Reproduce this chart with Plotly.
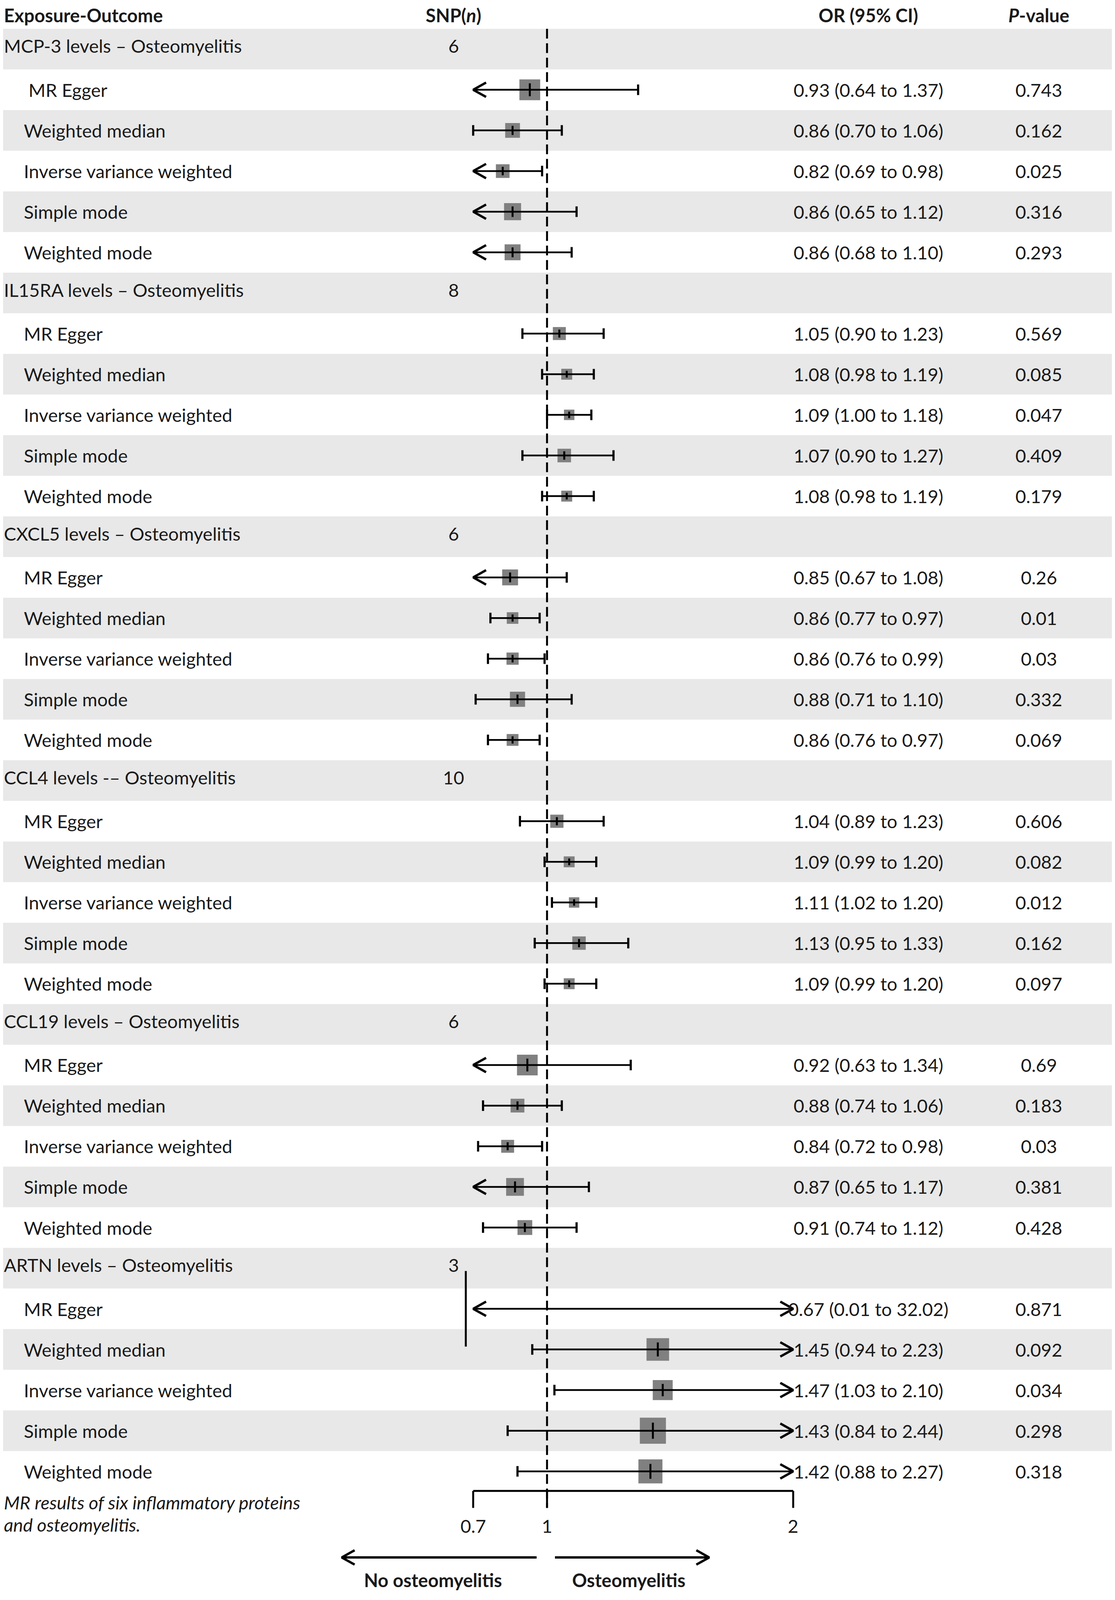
import numpy as np
import plotly.graph_objects as go

# ---- data ----
groups = [
    "MCP-3 levels – Osteomyelitis",
    "IL15RA levels – Osteomyelitis",
    "CXCL5 levels – Osteomyelitis",
    "CCL4 levels -– Osteomyelitis",
    "CCL19 levels – Osteomyelitis",
    "ARTN levels – Osteomyelitis",
]
snp_n = [6, 8, 6, 10, 6, 3]
methods = ["MR Egger", "Weighted median", "Inverse variance weighted", "Simple mode", "Weighted mode"]

or_est = [
    [0.93, 0.86, 0.82, 0.86, 0.86],
    [1.05, 1.08, 1.09, 1.07, 1.08],
    [0.85, 0.86, 0.86, 0.88, 0.86],
    [1.04, 1.09, 1.11, 1.13, 1.09],
    [0.92, 0.88, 0.84, 0.87, 0.91],
    [0.67, 1.45, 1.47, 1.43, 1.42],
]
ci_low = [
    [0.64, 0.70, 0.69, 0.65, 0.68],
    [0.90, 0.98, 1.00, 0.90, 0.98],
    [0.67, 0.77, 0.76, 0.71, 0.76],
    [0.89, 0.99, 1.02, 0.95, 0.99],
    [0.63, 0.74, 0.72, 0.65, 0.74],
    [0.01, 0.94, 1.03, 0.84, 0.88],
]
ci_high = [
    [1.37, 1.06, 0.98, 1.12, 1.10],
    [1.23, 1.19, 1.18, 1.27, 1.19],
    [1.08, 0.97, 0.99, 1.10, 0.97],
    [1.23, 1.20, 1.20, 1.33, 1.20],
    [1.34, 1.06, 0.98, 1.17, 1.12],
    [32.02, 2.23, 2.10, 2.44, 2.27],
]
p_values = [
    ["0.743", "0.162", "0.025", "0.316", "0.293"],
    ["0.569", "0.085", "0.047", "0.409", "0.179"],
    ["0.26", "0.01", "0.03", "0.332", "0.069"],
    ["0.606", "0.082", "0.012", "0.162", "0.097"],
    ["0.69", "0.183", "0.03", "0.381", "0.428"],
    ["0.871", "0.092", "0.034", "0.298", "0.318"],
]
x_ticks = [0.7, 1, 2]
x_tick_labels = ["0.7", "1", "2"]

# ---- geometry / style ----
# the page viewport is a little shorter than 4206, so the layout is squeezed
# vertically to keep the bottom labels inside the photographed area
W, H = 2845, 4085
VS = 4070 / 4206                # vertical squeeze vs. the reference pixels
X_LO, X_HI = 0.7, 2.0          # clipping window of the forest column
PX0, PX_PER = 1203.6, 630.3     # pixel of x=0.7 and pixels per OR unit
ROW_TOP, ROW_H = 68, 107.5      # reference pixel of first row top, row height
FONT = "Lato"
FS = 47
TXT = "#1a1a1a"


def px_to_x(px):
    return X_LO + (px - PX0) / PX_PER


def px_to_row(py):
    return (py - ROW_TOP) / ROW_H


ARROW_DX = 33 / PX_PER
ARROW_DY = 19 / ROW_H
CAP_DY = 14 / ROW_H

fig = go.Figure()
annotations = []
shapes = []


def add_text(px, row, text, anchor="left", bold=False, size=FS, italic=False):
    if bold:
        text = "<b>" + text + "</b>"
    if italic:
        text = "<i>" + text + "</i>"
    annotations.append(dict(
        x=px / W, xref="paper", y=row, yref="y", text=text, showarrow=False,
        xanchor=anchor, yanchor="middle",
        font=dict(family=FONT, size=size, color=TXT),
    ))


# header row
hdr = px_to_row(32)
add_text(0, hdr, "Exposure-Outcome", bold=True)
add_text(1153, hdr, "SNP(<i>n</i>)", anchor="center", bold=True)
add_text(2215, hdr, "OR (95% CI)", anchor="center", bold=True)
add_text(2652, hdr, "<i>P</i>-value", anchor="center", bold=True)

n_rows = len(groups) * (len(methods) + 1)
for r in range(0, n_rows, 2):
    shapes.append(dict(type="rect", xref="paper", yref="y", x0=0, x1=1, y0=r, y1=r + 1,
                       fillcolor="#E8E8E8", line=dict(width=0), layer="below"))

box_x, box_y, box_s = [], [], []
ci_x, ci_y = [], []
cap_x, cap_y = [], []
arr_x, arr_y = [], []
tk_x, tk_y = [], []

for g, name in enumerate(groups):
    r0 = g * (len(methods) + 1)
    add_text(0, r0 + 0.42, name)
    add_text(1153, r0 + 0.42, str(snp_n[g]), anchor="center")
    for k, m in enumerate(methods):
        yc = r0 + 1 + k + 0.5
        label = ("\u00a0" + m) if (g == 0 and k == 0) else m
        add_text(51, yc, label)
        est, lo, hi = or_est[g][k], ci_low[g][k], ci_high[g][k]
        add_text(2215, yc, f"{est:.2f} ({lo:.2f} to {hi:.2f})", anchor="center")
        add_text(2652, yc, p_values[g][k], anchor="center")

        size = 20 + 46 * np.log(hi / lo)
        if X_LO <= est <= X_HI:
            box_x.append(est)
            box_y.append(yc)
            box_s.append(size * VS)
        half = min(0.62 * size, 200) / 2 / ROW_H
        tk_x += [est, est, None]
        tk_y += [yc - half, yc + half, None]

        lo_d, hi_d = max(lo, X_LO), min(hi, X_HI)
        ci_x += [lo_d, hi_d, None]
        ci_y += [yc, yc, None]
        if lo < X_LO:
            arr_x += [X_LO + ARROW_DX, X_LO, X_LO + ARROW_DX, None]
            arr_y += [yc - ARROW_DY, yc, yc + ARROW_DY, None]
        else:
            cap_x += [lo, lo, None]
            cap_y += [yc - CAP_DY, yc + CAP_DY, None]
        if hi > X_HI:
            arr_x += [X_HI - ARROW_DX, X_HI, X_HI - ARROW_DX, None]
            arr_y += [yc - ARROW_DY, yc, yc + ARROW_DY, None]
        else:
            cap_x += [hi, hi, None]
            cap_y += [yc - CAP_DY, yc + CAP_DY, None]

fig.add_trace(go.Scatter(x=box_x, y=box_y, mode="markers", hoverinfo="skip",
                         marker=dict(symbol="square", size=box_s, color="#808080", opacity=1,
                                     line=dict(width=0))))
fig.add_trace(go.Scatter(x=ci_x, y=ci_y, mode="lines", line=dict(color="black", width=4.5), hoverinfo="skip"))
fig.add_trace(go.Scatter(x=cap_x, y=cap_y, mode="lines", line=dict(color="black", width=5.5), hoverinfo="skip"))
fig.add_trace(go.Scatter(x=arr_x, y=arr_y, mode="lines", line=dict(color="black", width=6), hoverinfo="skip"))
fig.add_trace(go.Scatter(x=tk_x, y=tk_y, mode="lines", line=dict(color="black", width=5), hoverinfo="skip"))

# x axis bracket
axis_row = px_to_row(3936)
tick_len = 45 / ROW_H
ax_x = [min(x_ticks), max(x_ticks), None]
ax_y = [axis_row, axis_row, None]
for t in x_ticks:
    ax_x += [t, t, None]
    ax_y += [axis_row, axis_row + tick_len, None]
fig.add_trace(go.Scatter(x=ax_x, y=ax_y, mode="lines", line=dict(color="black", width=5), hoverinfo="skip"))
for t, lab in zip(x_ticks, x_tick_labels):
    annotations.append(dict(x=t, xref="x", y=px_to_row(4028), yref="y", text=lab, showarrow=False,
                            xanchor="center", yanchor="middle",
                            font=dict(family=FONT, size=FS, color=TXT)))

# reference line at OR = 1
shapes.append(dict(type="line", xref="x", yref="y", x0=1, x1=1, y0=0, y1=axis_row + tick_len,
                   line=dict(color="black", width=5, dash="25px,12px")))

# caption
add_text(0, px_to_row(3966), "MR results of six inflammatory proteins", italic=True)
add_text(0, px_to_row(4025), "and osteomyelitis.", italic=True)

# direction arrows at the bottom
arrow_row = px_to_row(4112)
bx, by = [], []
for start, tip in [(1366, 867), (1413, 1808)]:
    xs, xt = px_to_x(start), px_to_x(tip)
    sgn = 1 if xt < xs else -1
    bx += [xs, xt, None, xt + sgn * ARROW_DX, xt, xt + sgn * ARROW_DX, None]
    by += [arrow_row, arrow_row, None, arrow_row - ARROW_DY, arrow_row, arrow_row + ARROW_DY, None]
fig.add_trace(go.Scatter(x=bx, y=by, mode="lines", line=dict(color="black", width=6), hoverinfo="skip"))
add_text(1100, px_to_row(4172), "No osteomyelitis", anchor="center", bold=True)
add_text(1602, px_to_row(4172), "Osteomyelitis", anchor="center", bold=True)

fig.update_layout(
    width=W, height=H,
    margin=dict(l=0, r=0, t=0, b=0),
    paper_bgcolor="white", plot_bgcolor="white",
    showlegend=False,
    xaxis=dict(range=[px_to_x(0), px_to_x(W)], visible=False, fixedrange=True),
    yaxis=dict(range=[px_to_row(H / VS), px_to_row(0)], visible=False, fixedrange=True),
    annotations=annotations,
    shapes=shapes,
)

fig.write_html("out.html")
